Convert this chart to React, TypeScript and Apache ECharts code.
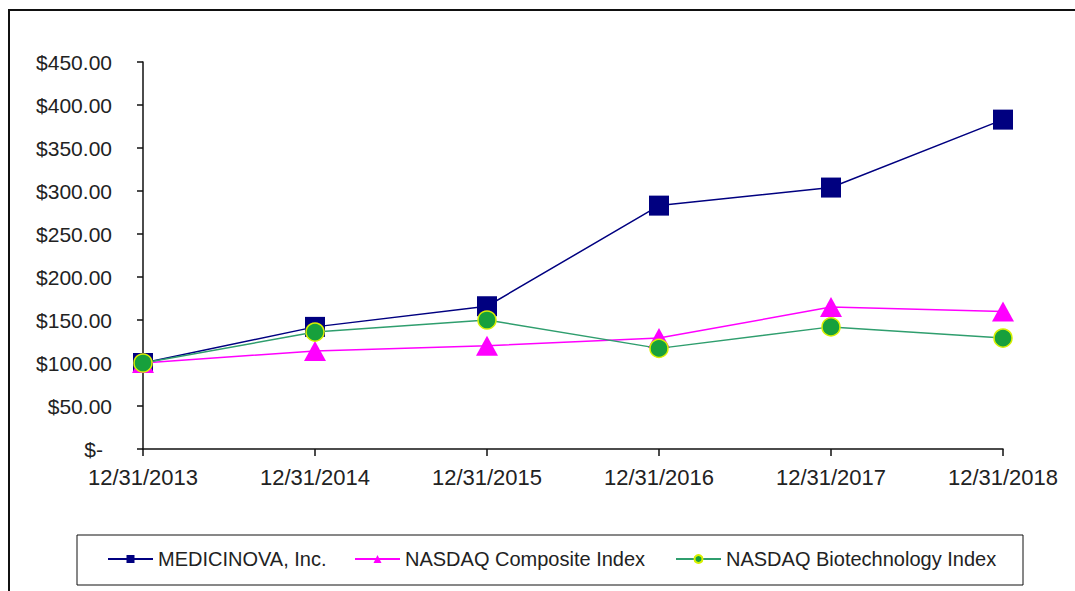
import React, { useEffect, useRef } from "react";
import * as echarts from "echarts";

const categories = ["12/31/2013", "12/31/2014", "12/31/2015", "12/31/2016", "12/31/2017", "12/31/2018"];
const seriesNames = ["MEDICINOVA, Inc.", "NASDAQ Composite Index", "NASDAQ Biotechnology Index"];
const medicinova = [100, 142, 166, 283, 304, 383];
const nasdaqComposite = [100, 114, 120, 129, 165, 160];
const nasdaqBiotech = [100, 136, 150, 117, 142, 129];

const FONT = "'Liberation Sans', Arial, sans-serif";

export default function App() {
  const ref = useRef<HTMLDivElement>(null);
  useEffect(() => {
    if (!ref.current) return;
    const chart = echarts.init(ref.current, undefined, { renderer: "svg" });
    const legendBase = {
      top: 549,
      padding: 0,
      itemWidth: 45,
      itemHeight: 10,
      itemGap: 0,
      textStyle: { fontFamily: FONT, fontSize: 20, color: "#222" },
    };
    chart.setOption({
      animation: false,
      backgroundColor: "#fff",
      textStyle: { fontFamily: FONT },
      graphic: [
        { type: "rect", shape: { x: 9, y: 10, width: 1100, height: 620 }, style: { fill: "none", stroke: "#111", lineWidth: 2 }, z: -1 },
        { type: "rect", shape: { x: 77, y: 535, width: 946, height: 50 }, style: { fill: "none", stroke: "#111", lineWidth: 1 } },
      ],
      legend: [
        { ...legendBase, left: 107, data: [seriesNames[0]] },
        { ...legendBase, left: 354, data: [seriesNames[1]] },
        { ...legendBase, left: 675, data: [seriesNames[2]] },
      ],
      grid: { left: 143, right: 72, top: 62, bottom: 142, containLabel: false },
      xAxis: {
        type: "category",
        data: categories,
        boundaryGap: false,
        axisLine: { lineStyle: { color: "#111", width: 1.5 } },
        axisTick: { show: true, alignWithLabel: true, length: 7, lineStyle: { color: "#111", width: 1.5 } },
        axisLabel: { fontFamily: FONT, fontSize: 22, color: "#222", margin: 17 },
        splitLine: { show: false },
      },
      yAxis: {
        type: "value",
        min: 0,
        max: 450,
        interval: 50,
        axisLine: { show: true, lineStyle: { color: "#111", width: 1.5 } },
        axisTick: { show: true, length: 6, lineStyle: { color: "#111", width: 1.5 } },
        splitLine: { show: false },
        axisLabel: {
          fontFamily: FONT,
          fontSize: 21,
          color: "#222",
          margin: 31,
          formatter: (v: number) => (v === 0 ? "{dash|$-}" : "$" + v.toFixed(2)),
          rich: { dash: { fontFamily: FONT, fontSize: 21, color: "#222", padding: [0, 9, 0, 0] } },
        },
      },
      series: [
        {
          name: seriesNames[0],
          type: "line",
          data: medicinova,
          symbol: "rect",
          symbolSize: 20,
          lineStyle: { color: "#000080", width: 1.5 },
          itemStyle: { color: "#000080" },
          z: 2,
        },
        {
          name: seriesNames[1],
          type: "line",
          data: nasdaqComposite,
          symbol: "triangle",
          symbolSize: [22, 20],
          lineStyle: { color: "#ff00ff", width: 1.5 },
          itemStyle: { color: "#ff00ff" },
          z: 3,
        },
        {
          name: seriesNames[2],
          type: "line",
          data: nasdaqBiotech,
          symbol: "circle",
          symbolSize: 18,
          lineStyle: { color: "#2f9e6e", width: 1.5 },
          itemStyle: { color: "#17a03c", borderColor: "#d8f000", borderWidth: 1.5 },
          z: 4,
        },
      ],
    });
    return () => chart.dispose();
  }, []);
  return <div ref={ref} style={{ position: "fixed", left: 0, top: 0, width: 1075, height: 591 }} />;
}
